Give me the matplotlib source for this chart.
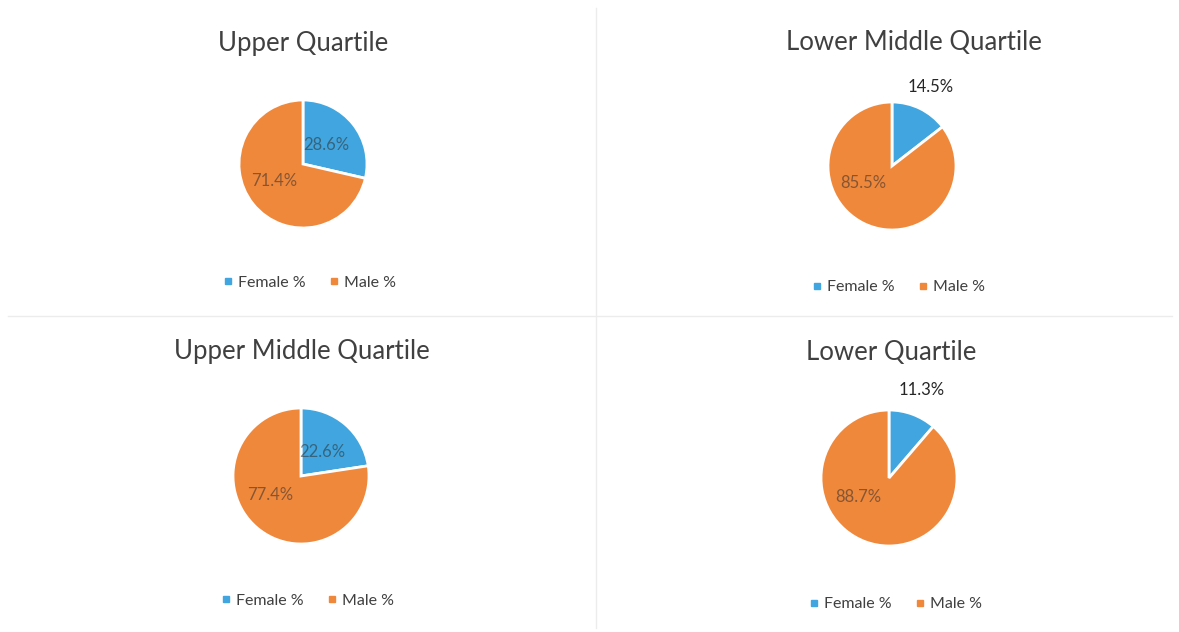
import numpy as np
import matplotlib
matplotlib.use('Agg')
import matplotlib.pyplot as plt
from matplotlib.lines import Line2D

# gender split per pay quartile
titles = ["Upper Quartile", "Lower Middle Quartile", "Upper Middle Quartile", "Lower Quartile"]
female_pct = [28.6, 14.5, 22.6, 11.3]
male_pct = [71.4, 85.5, 77.4, 88.7]
series_names = ["Female %", "Male %"]

BLUE = "#41a6df"
ORANGE = "#f0883c"
W, H = 1179, 632

# layout in pixels: pie centre x, y, radius, title y, legend y, title x
layout = [
    (303, 164, 64, 43, 283, 303),
    (892, 166, 64, 43, 287, 914),
    (301, 476, 68, 351, 601, 302),
    (889, 478, 68, 352, 604, 891),
]

plt.rcParams['font.family'] = ['Lato', 'DejaVu Sans']
fig = plt.figure(figsize=(W / 100, H / 100), dpi=100)
fig.patch.set_facecolor("white")


def fx(px):
    return px / W


def fy(py):
    return 1 - py / H


# faint panel dividers
fig.add_artist(Line2D([fx(596), fx(596)], [fy(8), fy(628)], color="#ececec", lw=1))
fig.add_artist(Line2D([fx(8), fx(1172)], [fy(316), fy(316)], color="#ececec", lw=1))

for i in range(4):
    cx, cy, r, ty, ly, tx = layout[i]
    ax = fig.add_axes([fx(cx - r), fy(cy + r), 2 * r / W, 2 * r / H])
    vals = [female_pct[i], male_pct[i]]
    wedges, _ = ax.pie(vals, colors=[BLUE, ORANGE], startangle=90, counterclock=False,
                       wedgeprops=dict(edgecolor="white", linewidth=2))
    ax.set_xlim(-1, 1)
    ax.set_ylim(-1, 1)
    ax.set_aspect("equal")
    ax.axis("off")

    # female label: inside for larger slices, outside above for small ones
    mid = np.deg2rad(90 - female_pct[i] / 100 * 180)
    if female_pct[i] > 20:
        d = 0.47
        ax.text(d * np.cos(mid), d * np.sin(mid), f"{female_pct[i]}%", ha="center", va="center",
                fontsize=12, color="#2e2e2e", alpha=0.55)
    else:
        d = 1.38
        ax.text(d * np.cos(mid), d * np.sin(mid), f"{female_pct[i]}%", ha="center", va="center",
                fontsize=12, color="#262626")
    a = np.deg2rad(-149)
    ax.text(0.53 * np.cos(a), 0.53 * np.sin(a), f"{male_pct[i]}%", ha="center", va="center",
            fontsize=12, color="#2e2e2e", alpha=0.55)

    fig.text(fx(tx), fy(ty), titles[i], ha="center", va="center", fontsize=18.5, color="#404040")

    handles = [Line2D([], [], marker="s", ls="", color=c, markersize=5) for c in (BLUE, ORANGE)]
    fig.legend(handles, series_names, loc="center", bbox_to_anchor=(fx(cx + 4), fy(ly)), ncol=2,
               frameon=False, fontsize=11.5, handletextpad=0.0, columnspacing=1.2,
               handlelength=1.2, labelcolor="#404040")

fig.savefig("out.png", dpi=100, facecolor="white")
